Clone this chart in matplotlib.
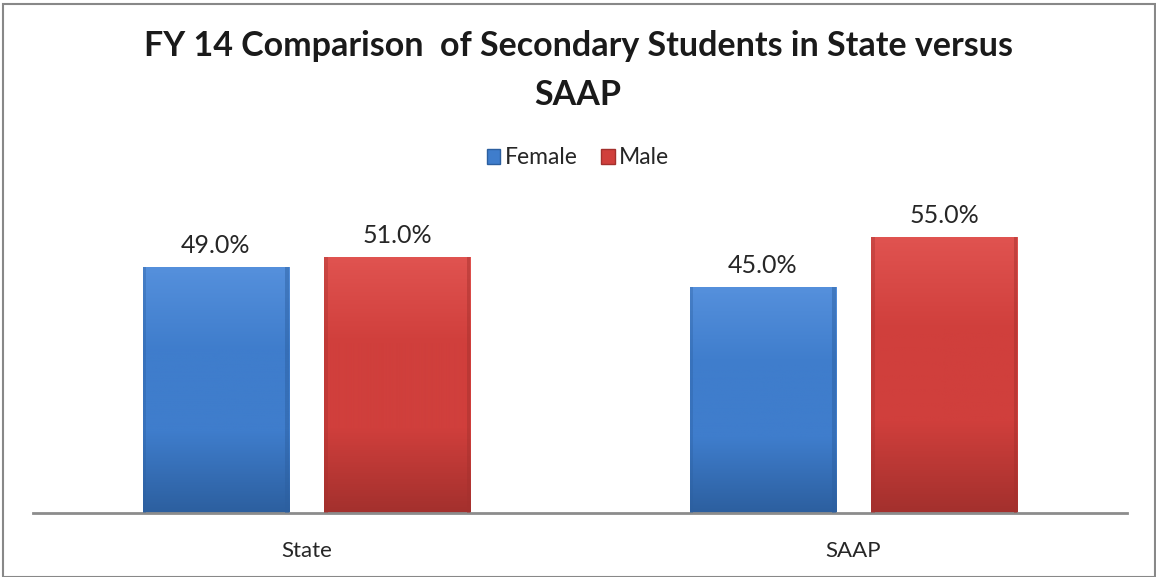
import numpy as np
import matplotlib.pyplot as plt
from matplotlib.patches import Rectangle
from matplotlib.colors import LinearSegmentedColormap

plt.rcParams['font.family'] = ['Lato', 'DejaVu Sans']

# FY 14 share of secondary students by gender
groups = ['State', 'SAAP']
series = ['Female', 'Male']
female = [49.0, 45.0]
male = [51.0, 55.0]

colors = {'Female': ('#5590dc', '#3f7dcc', '#2c5f9f'),
          'Male': ('#e05350', '#d03f3c', '#a3302d')}


def shaded_bar(ax, x, w, h, cols):
    light, mid, dark = cols
    cmap = LinearSegmentedColormap.from_list('g', [dark, mid, mid, light])
    grad = np.linspace(0, 1, 256).reshape(-1, 1)
    rect = Rectangle((x, 0), w, h, facecolor='none', edgecolor='none')
    ax.add_patch(rect)
    im = ax.imshow(grad, extent=(x, x + w, 0, h), origin='lower', cmap=cmap,
                   aspect='auto', zorder=2)
    im.set_clip_path(rect)
    # bevel: light top edge, darker sides
    ax.add_patch(Rectangle((x, h - 1.2), w, 1.2, facecolor=light, edgecolor='none',
                           alpha=0.9, zorder=3))
    ax.add_patch(Rectangle((x, 0), w * 0.025, h, facecolor=dark, edgecolor='none',
                           alpha=0.35, zorder=3))
    ax.add_patch(Rectangle((x + w * 0.975, 0), w * 0.025, h, facecolor=dark,
                           edgecolor='none', alpha=0.45, zorder=3))


fig = plt.figure(figsize=(11.56, 5.77), dpi=100)
ax = fig.add_axes([33 / 1156, 64 / 577, 1094 / 1156, 301 / 577])

w = 0.267
offset = 0.166
xs = np.arange(len(groups))
for i in xs:
    for val, off, name in ((female[i], -offset, 'Female'), (male[i], offset, 'Male')):
        shaded_bar(ax, i + off - w / 2, w, val, colors[name])
        ax.text(i + off, val + 2.0, f'{val:.1f}%', ha='center', va='bottom',
                fontsize=18, color='#262626')

ax.set_xlim(-0.5, len(groups) - 0.5)
ax.set_ylim(0, 60)
ax.set_yticks([])
ax.set_xticks(xs)
ax.set_xticklabels(groups, fontsize=16, color='#262626')
ax.tick_params(axis='x', length=0, pad=20)
for s in ('top', 'right', 'left'):
    ax.spines[s].set_visible(False)
ax.spines['bottom'].set_color('#8c8c8c')
ax.spines['bottom'].set_linewidth(2)

# legend
handles = [Rectangle((0, 0), 1, 1, facecolor=colors[n][1], edgecolor=colors[n][2])
           for n in series]
fig.legend(handles, series, loc='center', bbox_to_anchor=(0.5, 1 - 158 / 577),
           ncol=2, frameon=False, fontsize=16.5, handlelength=0.6, handleheight=0.6,
           handletextpad=0.2, columnspacing=1.0, labelcolor='#262626')

fig.text(0.5, 1 - 46 / 577, 'FY 14 Comparison  of Secondary Students in State versus',
         ha='center', va='center', fontsize=24.5, fontweight='bold', color='#1a1a1a')
fig.text(0.5, 1 - 95 / 577, 'SAAP', ha='center', va='center', fontsize=24.5,
         fontweight='bold', color='#1a1a1a')

# outer chart border
fig.add_artist(Rectangle((3 / 1156, 0), 1152 / 1156, 1 - 4 / 577, transform=fig.transFigure,
                         facecolor='none', edgecolor='#888888', linewidth=1.5))

fig.savefig('out.png', dpi=100)
